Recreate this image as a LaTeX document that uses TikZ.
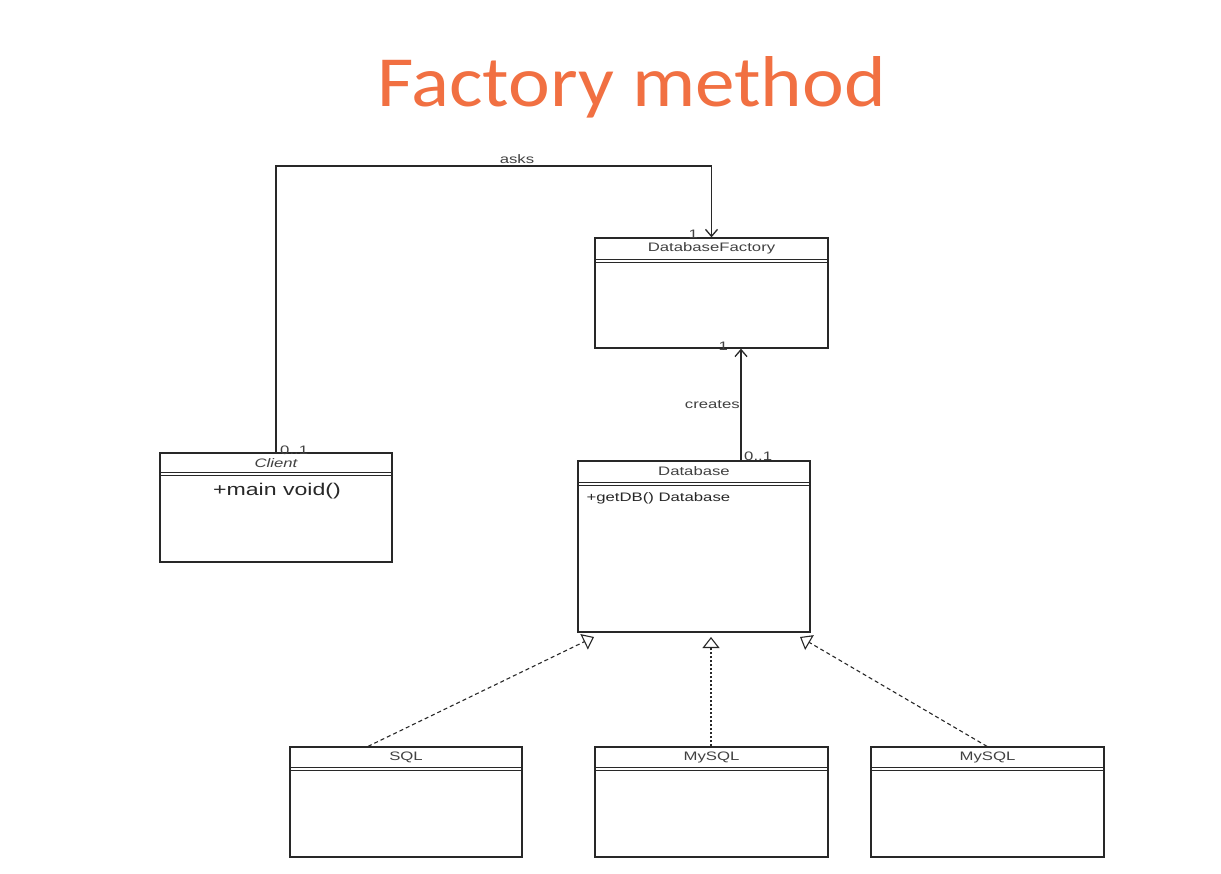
\documentclass[tikz,border=0pt]{standalone}
\usepackage{fontspec}
\usetikzlibrary{arrows.meta,calc}
\newfontfamily\umlf[FakeStretch=1.36]{Liberation Sans}
\newfontfamily\ttlf[FakeStretch=1.1]{Carlito}
\definecolor{ttlc}{RGB}{241,112,66}
\definecolor{linec}{RGB}{40,40,40}
\definecolor{txtc}{RGB}{65,65,65}
\begin{document}
\begin{tikzpicture}[x=1pt,y=-1pt,
  umlbox/.style={draw=linec,line width=1.3pt,rectangle,inner sep=0pt},
  hdr/.style={font=\umlf\fontsize{12.3}{13}\selectfont,text=txtc,inner sep=0pt},
  lbl/.style={font=\umlf\fontsize{12.3}{13}\selectfont,text=txtc,inner sep=0pt},
  assoc/.style={draw=linec,line width=1.4pt,-{Straight Barb[length=7pt,width=12pt,line width=1.3pt]}},
  real/.style={draw=linec,line width=1.1pt,dash pattern=on 4pt off 3pt,-{Triangle[open,length=11pt,width=17pt,line width=1.1pt,fill=white]}},
  realdot/.style={real,dash pattern=on 2pt off 2pt},
  sep/.style={draw=linec,line width=1pt}
]
\useasboundingbox[fill=white] (0,0) rectangle (1221,873);

% title
\node[font=\ttlf\fontsize{72}{74}\selectfont,text=ttlc,anchor=base,inner sep=0pt] (title) at (631.5,106) {Factory method};

% boxes
\node[umlbox,minimum width=233pt,minimum height=110pt] (df) at (711.5,293) {};
\node[umlbox,minimum width=232pt,minimum height=109pt] (client) at (276,507.5) {};
\node[umlbox,minimum width=232pt,minimum height=171pt] (db) at (694,546.5) {};
\node[umlbox,minimum width=232pt,minimum height=110pt] (sql) at (406,802) {};
\node[umlbox,minimum width=233pt,minimum height=110pt] (mysqla) at (711.5,802) {};
\node[umlbox,minimum width=233pt,minimum height=110pt] (mysqlb) at (987.5,802) {};

% headers
\node[hdr] (dft) at ($(df.north)+(0,11)$) {DatabaseFactory};
\draw[sep] ($(df.north west)+(0,22)$) -- ($(df.north east)+(0,22)$);
\draw[sep] ($(df.north west)+(0,25.5)$) -- ($(df.north east)+(0,25.5)$);

\node[hdr] (clt) at ($(client.north)+(0,10.5)$) {\itshape Client};
\draw[sep] ($(client.north west)+(0,20)$) -- ($(client.north east)+(0,20)$);
\draw[sep] ($(client.north west)+(0,23.5)$) -- ($(client.north east)+(0,23.5)$);
\node[font=\umlf\fontsize{17}{18}\selectfont,text=linec,inner sep=0pt] (cltm) at ($(client.north)+(1,39)$) {+main void()};

\node[hdr] (dbt) at ($(db.north)+(0,10.5)$) {Database};
\draw[sep] ($(db.north west)+(0,22)$) -- ($(db.north east)+(0,22)$);
\draw[sep] ($(db.north west)+(0,25.5)$) -- ($(db.north east)+(0,25.5)$);
\node[hdr,text=linec,anchor=west] (dbm) at ($(db.north west)+(9,37.5)$) {+getDB() Database};

\node[hdr] (sqlt) at ($(sql.north)+(0,11)$) {SQL};
\draw[sep] ($(sql.north west)+(0,21)$) -- ($(sql.north east)+(0,21)$);
\draw[sep] ($(sql.north west)+(0,24.5)$) -- ($(sql.north east)+(0,24.5)$);

\node[hdr] (mat) at ($(mysqla.north)+(0,11)$) {MySQL};
\draw[sep] ($(mysqla.north west)+(0,21)$) -- ($(mysqla.north east)+(0,21)$);
\draw[sep] ($(mysqla.north west)+(0,24.5)$) -- ($(mysqla.north east)+(0,24.5)$);

\node[hdr] (mbt) at ($(mysqlb.north)+(0,11)$) {MySQL};
\draw[sep] ($(mysqlb.north west)+(0,21)$) -- ($(mysqlb.north east)+(0,21)$);
\draw[sep] ($(mysqlb.north west)+(0,24.5)$) -- ($(mysqlb.north east)+(0,24.5)$);

% asks association
\coordinate (askc) at (500,166);
\draw[assoc] (client.north) |- (askc) -| (df.north);
\node[lbl,anchor=base] (asks) at (517,163.5) {asks};
\node[lbl,anchor=base east] (m1) at (698,238.5) {1};
\node[lbl,anchor=base west] (m2) at (280,454) {0..1};

% creates association
\coordinate (cx) at (741,0);
\draw[assoc] (db.north -| cx) -- (df.south -| cx);
\node[lbl,anchor=east] (creates) at (740,404.5) {creates};
\node[lbl,anchor=base east] (m3) at (728,350) {1};
\node[lbl,anchor=base west] (m4) at (744,460) {0..1};

% realizations
\coordinate (t1) at (594,637);
\coordinate (t2) at (711,637);
\coordinate (t3) at (800,637);
\coordinate (s1) at (368,0);
\coordinate (s3) at (987,0);
\draw[real] (sql.north -| s1) -- (t1);
\draw[realdot] (mysqla.north -| t2) -- (t2);
\draw[real] (mysqlb.north -| s3) -- (t3);
\end{tikzpicture}
\end{document}
